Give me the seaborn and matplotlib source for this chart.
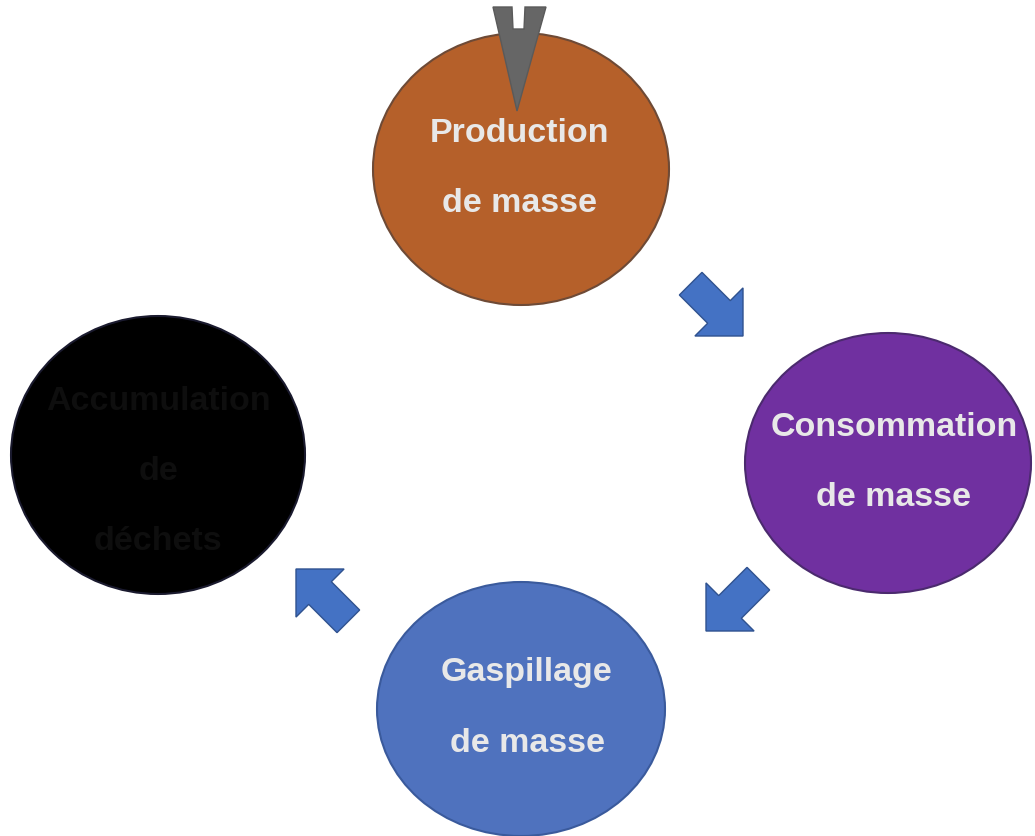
# Cycle diagram: production -> consommation -> gaspillage -> accumulation.
import numpy as np
import seaborn as sns
import matplotlib.pyplot as plt
from matplotlib.patches import Ellipse, Polygon

# Stages of the cycle (top, right, bottom, left).
stage_labels = ["Production\nde masse", "Consommation\nde masse",
                "Gaspillage\nde masse", "Accumulation\nde\ndéchets"]
stage_colors = ["#B5602A", "#7030A0", "#4F72BE", "#000000"]
stage_edges = ["#6E4A36", "#4B2A6E", "#3A5A9C", "#1A1A2E"]
text_colors = ["#E8E8E8", "#E8E8E8", "#E8E8E8", "#0E0E0E"]

# Centres and radii in pixel units (x, y, rx, ry).
stage_centres = [(521, 170), (888, 464), (521, 710), (158, 456)]
stage_radii = [(148, 136), (143, 130), (144, 127), (147, 139)]
text_shift = [(-2, 0), (6, 0), (6, 0), (0, 18)]

# Block arrows between stages: tip position and direction angle (deg, y down).
arrow_tips = [(743, 337), (706, 632), (296, 570)]
arrow_angles = [45, 135, 225]

sns.set_theme(style="white")
plt.rcParams['font.family'] = ['Liberation Sans', 'DejaVu Sans']

fig = plt.figure(figsize=(10.35, 8.37), dpi=100)
ax = fig.add_axes([0, 0, 1, 1])
ax.set_xlim(0, 1035)
ax.set_ylim(837, 0)
ax.axis('off')

for (cx, cy), (rx, ry), fc, ec in zip(stage_centres, stage_radii, stage_colors, stage_edges):
    ax.add_patch(Ellipse((cx, cy), 2 * rx, 2 * ry, facecolor=fc, edgecolor=ec, lw=1.5, zorder=2))

for (cx, cy), (dx, dy), label, tc in zip(stage_centres, text_shift, stage_labels, text_colors):
    lines = label.split("\n")
    gap = 70
    y0 = cy + dy - gap * (len(lines) - 1) / 2 - 2
    for i, line in enumerate(lines):
        ax.text(cx + dx, y0 + i * gap, line, ha='center', va='center', fontsize=24.5,
                fontweight='bold', color=tc, zorder=4)

# Block arrow shape pointing along +x with its tip at the origin.
L, h, w = 74, 34, 16
shape = np.array([[0, 0], [-h, -h], [-h, -w], [-L, -w], [-L, w], [-h, w], [-h, h]], float)
for (tx, ty), ang in zip(arrow_tips, arrow_angles):
    a = np.deg2rad(ang)
    rot = np.array([[np.cos(a), -np.sin(a)], [np.sin(a), np.cos(a)]])
    pts = shape @ rot.T + [tx, ty]
    ax.add_patch(Polygon(pts, closed=True, facecolor="#4472C4", edgecolor="#2F528F", lw=1, zorder=3))

# Grey wedge entering the top stage.
wedge = [(493, 8), (512, 8), (513, 30), (524, 30), (525, 8), (546, 8), (517, 112)]
ax.add_patch(Polygon(wedge, closed=True, facecolor="#666666", edgecolor="#5A5A5A", lw=1, zorder=3))

fig.savefig("out.png", dpi=100, facecolor="white")
